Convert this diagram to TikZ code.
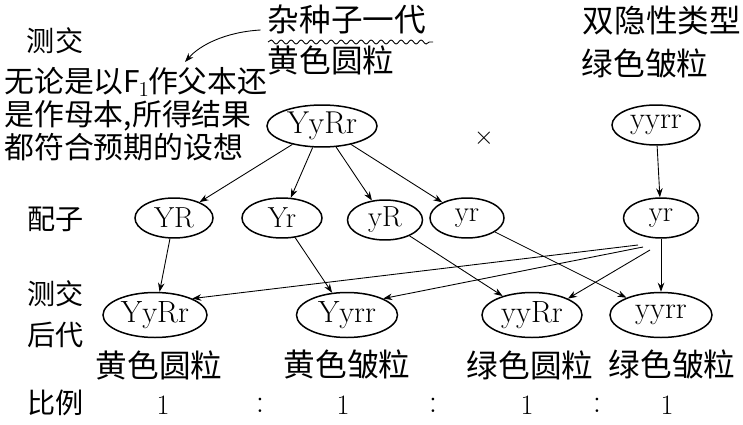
\documentclass[tikz,border=0pt]{standalone}
\usepackage{fontspec}
\newfontfamily\cjk{Noto Sans CJK SC}
\usetikzlibrary{positioning, arrows.meta, shapes.geometric, decorations.pathmorphing, calc}
\tikzset{
  geno/.style={
    draw, ellipse, line width=0.85pt,
    inner sep=0pt,
    minimum width=#1,
    minimum height=9mm,
    font=\fontsize{17.5}{20}\selectfont\addfontfeatures{LetterSpace=6}
  },
  gamete/.style={
    geno=#1,
    minimum height=8mm,
    font=\fontsize{16.5}{19}\selectfont\addfontfeatures{LetterSpace=6}
  },
  cn/.style={font=\cjk\fontsize{18}{21}\selectfont, inner sep=0pt},
  side/.style={font=\cjk\fontsize{16}{19}\selectfont, inner sep=0pt},
  hand/.style={font=\cjk\fontsize{17}{20}\selectfont, inner sep=0pt, anchor=west},
  ratio/.style={font=\fontsize{16}{19}\selectfont, inner sep=0pt},
  chain/.style={
    -{Stealth[length=1.8mm,width=1.3mm]},
    line width=0.5pt
  }
}

\begin{document}
\begin{tikzpicture}[x=0.2mm, y=-0.2mm]
  \useasboundingbox (0,0) rectangle (743,425);

  % left column
  \node[side] (cj1) at (55,41) {测交};
  \node[side] (pz) at (56,219) {配子};
  \node[side] (cj2) at (56,294) {测交};
  \node[side] (hd) at (56,335) {后代};
  \node[side] (bl) at (56,403) {比例};

  % note
  \node[hand] (n1) at (4,82) {无论是以F\kern-1pt$_1$\kern-1pt作父本还};
  \node[hand] (n2) at (4,116) {是作母本,所得结果};
  \node[hand] (n3) at (4,147) {都符合预期的设想};

  % parents
  \node[cn] (hyb) at (347,20) {杂种子一代};
  \node[cn] (hybt) at (331,60) {黄色圆粒};
  \node[cn] (dbl) at (662,21) {双隐性类型};
  \node[cn] (dblt) at (645,64) {绿色皱粒};
  \draw[decorate, decoration={snake, amplitude=0.4mm, segment length=2mm}, line width=0.5pt]
    (268,42) -- (433,42);
  \coordinate (tip) at (185,62);
  \draw[chain] ($(hyb.west)+(-7,10)$) .. controls +(-35,2) and +(15,-17) .. (tip);

  \node[geno=22mm, minimum height=8.4mm, font=\fontsize{18}{21}\selectfont\addfontfeatures{LetterSpace=6}] (p1) at (322,126) {YyRr};
  \node[font=\fontsize{14}{16}\selectfont] (x) at (484,138) {$\times$};
  \node[geno=17.6mm, minimum height=8mm] (p2) at (656,125) {yyrr};

  % gametes
  \node[gamete=15.6mm] (g1) at (174,218) {YR};
  \node[gamete=16mm] (g2) at (282,218) {Yr};
  \node[gamete=15mm] (g3) at (385,220) {yR};
  \node[gamete=14.8mm] (g4) at (467,218) {yr};
  \node[gamete=15mm] (g5) at (661,218) {yr};

  % offspring
  \node[geno=20.8mm] (o1) at (155,315) {YyRr};
  \node[geno=20.2mm] (o2) at (347,315) {Yyrr};
  \node[geno=20mm] (o3) at (532,315) {yyRr};
  \node[geno=20.4mm] (o4) at (661,315) {yyrr};

  \node[cn] (t1) at (159,365) {黄色圆粒};
  \node[cn] (t2) at (347,365) {黄色皱粒};
  \node[cn] (t3) at (530,365) {绿色圆粒};
  \node[cn] (t4) at (672,365) {绿色皱粒};

  \node[ratio] (r1) at (163,405) {1};
  \node[ratio, font=\fontsize{19}{21}\selectfont] (c1) at (260,405) {:};
  \node[ratio] (r2) at (343,405) {1};
  \node[ratio, font=\fontsize{19}{21}\selectfont] (c2) at (433,405) {:};
  \node[ratio] (r3) at (527,405) {1};
  \node[ratio, font=\fontsize{19}{21}\selectfont] (c3) at (597,405) {:};
  \node[ratio] (r4) at (667,405) {1};

  \foreach \g in {g1,g2,g3,g4}
    \draw[chain] (p1) -- (\g);
  \draw[chain] (p2) -- (g5);

  \draw[chain] (g1) -- (o1);
  \draw[chain] (g2) -- (o2);
  \draw[chain] (g3) -- (o3);
  \draw[chain] (g4) -- (o4);

  \coordinate (f1) at ($(g5)+(-23,27)$);
  \coordinate (f2) at ($(g5)+(-18,29)$);
  \coordinate (f3) at ($(g5)+(-11,32)$);
  \draw[chain] (f1) -- (o1.north east);
  \draw[chain] (f2) -- (o2.north east);
  \draw[chain] (f3) -- (o3.north east);
  \draw[chain] (g5) -- (o4);
\end{tikzpicture}
\end{document}
